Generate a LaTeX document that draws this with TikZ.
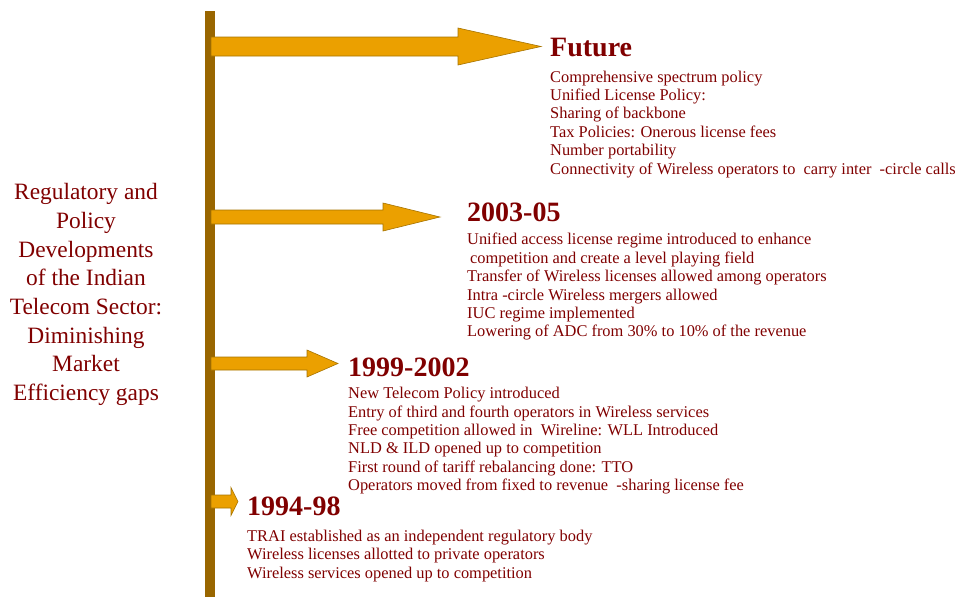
\documentclass[tikz,border=0pt]{standalone}
\usepackage{fontspec}
\setmainfont{Liberation Serif}
\usetikzlibrary{positioning}
\definecolor{barbrown}{HTML}{996600}
\definecolor{arrowgold}{HTML}{EBA000}
\definecolor{arrowedge}{HTML}{A67300}
\definecolor{textred}{HTML}{800000}
\tikzset{%
yeartitle/.style={inner sep=0pt, anchor=base west, text=textred, font=\fontsize{28}{32}\selectfont\bfseries},
itemlist/.style={inner sep=0pt, anchor=north west, align=left, text=textred, font=\fontsize{16.4}{18.4}\selectfont},
sidetitle/.style={inner sep=0pt, anchor=north, align=center, text=textred, font=\fontsize{23.4}{28.7}\selectfont},
tlarrow/.style={fill=arrowgold, draw=arrowedge, line width=0.6pt, line join=miter}
}
% #1 centre y, #2 end of shaft, #3 tip, #4 half shaft, #5 half head
\newcommand{\timearrow}[5]{%
\draw[tlarrow] (211,-#1+#4) -- (#2,-#1+#4) -- (#2,-#1+#5) -- (#3,-#1)
 -- (#2,-#1-#5) -- (#2,-#1-#4) -- (211,-#1-#4) -- cycle;}

\begin{document}
\begin{tikzpicture}[x=1pt, y=1pt]
	\useasboundingbox (0,0) rectangle (958,-597);
	
	% time line
	\fill[barbrown] (205,-11) rectangle (215,-597);
	\timearrow{46.5}{458}{541}{9.5}{18.5}
	\timearrow{217}{383}{440}{7}{14}
	\timearrow{363.5}{307}{338}{6.5}{13.5}
	\timearrow{501.5}{231}{238}{6.5}{14}
	
	\node[sidetitle] (side) at (86,-183.2) {Regulatory and\\ Policy\\Developments\\of the Indian\\Telecom Sector:\\Diminishing\\ Market\\Efficiency gaps};
	
	\node[yeartitle] (fut) at (550,-56.7) {Future};
	\node[itemlist] (futlist) at (550,-70.5) {Comprehensive spectrum policy\\Unified License Policy:\\Sharing of backbone\\Tax Policies: Onerous license fees\\Number portability\\Connectivity of Wireless operators to~~carry inter~~-circle calls};
	
	\node[yeartitle] (yr03) at (467,-221.7) {2003-05};
	\node[itemlist] (yr03list) at (467,-233.1) {Unified access license regime introduced to enhance\\\hspace{3pt}competition and create a level playing field\\Transfer of Wireless licenses allowed among operators\\Intra -circle Wireless mergers allowed\\IUC regime implemented\\Lowering of ADC from 30\% to 10\% of the revenue};
	
	\node[yeartitle] (yr99) at (348,-376.7) {1999-2002};
	\node[itemlist] (yr99list) at (348,-387.1) {New Telecom Policy introduced\\Entry of third and fourth operators in Wireless services\\Free competition allowed in~~Wireline: WLL Introduced\\NLD \& ILD opened up to competition\\First round of tariff rebalancing done: TTO\\Operators moved from fixed to revenue~~-sharing license fee};
	
	\node[yeartitle] (yr94) at (247,-515.7) {1994-98};
	\node[itemlist] (yr94list) at (247,-529.8) {TRAI established as an independent regulatory body\\Wireless licenses allotted to private operators\\Wireless services opened up to competition};
\end{tikzpicture}
\end{document}
